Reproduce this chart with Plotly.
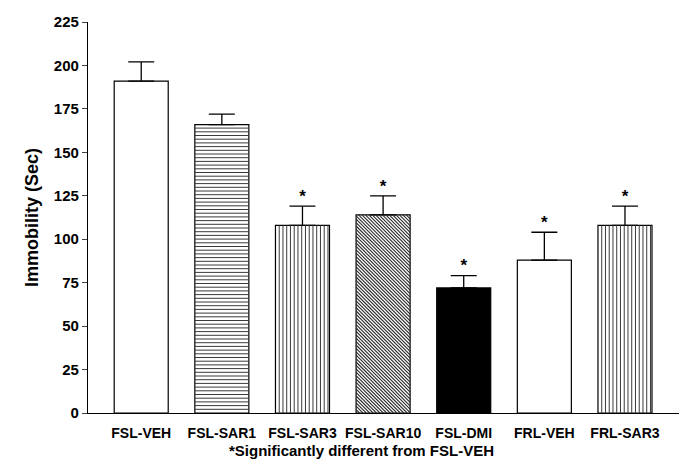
import plotly.graph_objects as go

categories = ["FSL-VEH", "FSL-SAR1", "FSL-SAR3", "FSL-SAR10", "FSL-DMI", "FRL-VEH", "FRL-SAR3"]
means = [191, 166, 108, 114, 72, 88, 108]
sems = [11, 6, 11, 11, 7, 16, 11]
significant = [False, False, True, True, True, True, True]
footnote = "*Significantly different from FSL-VEH"

# styling
fills = ["white", "white", "white", "white", "black", "white", "white"]
hatches = ["", "h", "v", "d", "", "", "v"]
font = "Liberation Sans, Arial, sans-serif"

W, H = 681, 467
ML, MR, MT, MB = 88, 2, 22, 54
XR = [-0.66, 6.67]
YR = [0, 225]
BAR_W = 0.67
px_x = (W - ML - MR) / (XR[1] - XR[0])   # pixels per x unit
px_y = (H - MT - MB) / (YR[1] - YR[0])   # pixels per y unit

x = list(range(len(categories)))

fig = go.Figure()
fig.add_trace(go.Bar(
    x=x, y=means, width=BAR_W,
    marker=dict(color=fills, line=dict(color="black", width=1.2)),
    error_y=dict(type="data", array=sems, arrayminus=[0] * len(sems), symmetric=False,
                 color="black", thickness=1.3, width=13),
    showlegend=False, hoverinfo="skip",
))

# hatch lines computed from each bar's extent (in pixel space, converted back to data units)
def hatch_lines(xc, h, kind):
    xs, ys = [], []
    left = xc - BAR_W / 2
    Wp = BAR_W * px_x
    Hp = h * px_y
    if kind == "h":
        step = 3.7
        k = step
        while k < Hp - 0.5:
            xs += [left, left + BAR_W, None]
            ys += [k / px_y, k / px_y, None]
            k += step
    elif kind == "v":
        step = 3.75
        k = step
        while k < Wp - 0.5:
            xs += [left + k / px_x, left + k / px_x, None]
            ys += [0, h, None]
            k += step
    elif kind == "d":
        step = 3.4
        k = step
        while k < Wp + Hp:
            p0 = max(0.0, k - Hp)
            p1 = min(Wp, k)
            if p1 > p0:
                xs += [left + p0 / px_x, left + p1 / px_x, None]
                ys += [(k - p0) / px_y, (k - p1) / px_y, None]
            k += step
    return xs, ys

for xi, m, kind in zip(x, means, hatches):
    if not kind:
        continue
    hx, hy = hatch_lines(xi, m, kind)
    fig.add_trace(go.Scatter(
        x=hx, y=hy, mode="lines",
        line=dict(color="#3a3a3a" if kind != "d" else "#2a2a2a", width=1 if kind != "d" else 1.1),
        showlegend=False, hoverinfo="skip", cliponaxis=True,
    ))

star_x = [xi for xi, s in zip(x, significant) if s]
star_y = [m + e for m, e, s in zip(means, sems, significant) if s]
fig.add_trace(go.Scatter(
    x=star_x, y=star_y, mode="text", text=["*"] * len(star_x),
    textposition="top center", textfont=dict(family=font, size=17, color="black", weight="bold"),
    showlegend=False, hoverinfo="skip",
))

fig.update_layout(
    width=W, height=H,
    margin=dict(l=ML, r=MR, t=MT, b=MB),
    plot_bgcolor="white", paper_bgcolor="white",
    font=dict(family=font, color="black"),
    annotations=[dict(
        text=footnote, xref="paper", yref="paper", x=0.462, y=-0.097,
        xanchor="center", yanchor="middle", showarrow=False,
        font=dict(family=font, size=15, color="black", weight="bold"),
    )],
)
fig.update_xaxes(
    range=XR, tickmode="array", tickvals=x, ticktext=categories,
    showline=True, linecolor="black", linewidth=1.3, ticks="", showgrid=False, zeroline=False,
    ticklabelstandoff=7,
    tickfont=dict(family=font, size=14, color="black", weight="bold"),
)
fig.update_yaxes(
    range=YR, tickmode="array", tickvals=[0, 25, 50, 75, 100, 125, 150, 175, 200, 225],
    showline=True, linecolor="black", linewidth=1.3, ticks="outside", ticklen=5, tickwidth=1.3,
    showgrid=False, zeroline=False,
    tickfont=dict(family=font, size=15, color="black", weight="bold"),
    title=dict(text="Immobility (Sec)", standoff=10,
               font=dict(family=font, size=18, color="black", weight="bold")),
)
fig.write_html("out.html")
